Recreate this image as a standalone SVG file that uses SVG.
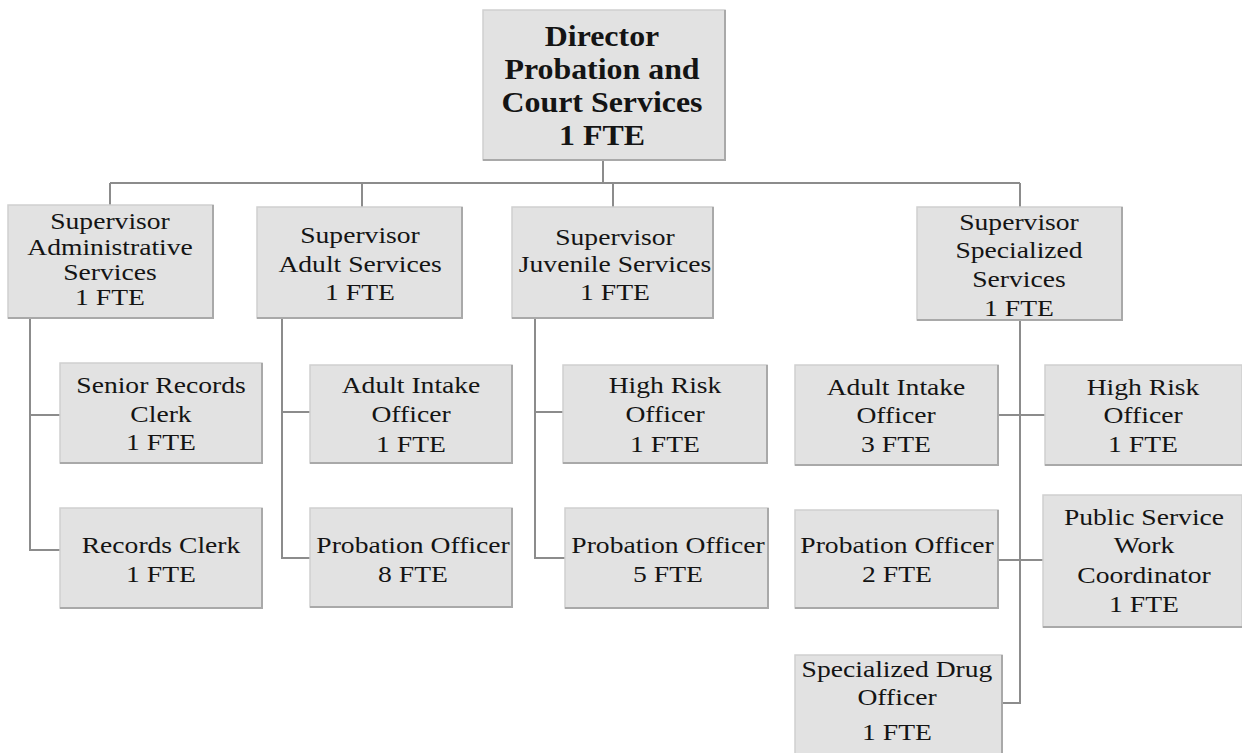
<svg xmlns="http://www.w3.org/2000/svg" width="1242" height="753" viewBox="0 0 1242 753">
<style>
.box{fill:#e2e2e2;stroke:#cfcfcf;stroke-width:1.5}
.edge{fill:none;stroke:#a9a9a9;stroke-width:2}
.t{font-family:"Liberation Serif","Times New Roman",serif;font-size:24px;fill:#141414;text-anchor:middle}
.tb{font-family:"Liberation Serif","Times New Roman",serif;font-size:29px;font-weight:bold;fill:#141414;text-anchor:middle}
#connectors path{fill:none;stroke:#8c8c8c;stroke-width:2}
</style>
<rect width="1242" height="753" fill="#ffffff"/>
<g id="connectors">
<path d="M603,160V183M110,183H1020M110,183V205M362,183V207M613,183V207M1020,183V207"/>
<path d="M30,318V550H60M30,415H60"/>
<path d="M282,318V558H310M282,412H310"/>
<path d="M535,318V558H565M535,412H563"/>
<path d="M1020,320V703H1002M998,415H1045M998,560H1043"/>
</g>
<g id="director">
<rect class="box" x="483" y="10" width="242" height="150"/>
<path class="edge" d="M725,10V160H483"/>
<g transform="translate(602,0) scale(1.1,1)">
<text class="tb" x="0" y="46">Director</text>
<text class="tb" x="0" y="79">Probation and</text>
<text class="tb" x="0" y="112">Court Services</text>
<text class="tb" x="0" y="145">1 FTE</text>
</g>
</g>
<g id="sup-admin">
<rect class="box" x="8" y="205" width="205" height="113"/>
<path class="edge" d="M213,205V318H8"/>
<g transform="translate(110,0) scale(1.15,1)">
<text class="t" x="0" y="229">Supervisor</text>
<text class="t" x="0" y="255">Administrative</text>
<text class="t" x="0" y="280">Services</text>
<text class="t" x="0" y="305">1 FTE</text>
</g>
</g>
<g id="sup-adult">
<rect class="box" x="257" y="207" width="205" height="111"/>
<path class="edge" d="M462,207V318H257"/>
<g transform="translate(360,0) scale(1.15,1)">
<text class="t" x="0" y="243">Supervisor</text>
<text class="t" x="0" y="272">Adult Services</text>
<text class="t" x="0" y="300">1 FTE</text>
</g>
</g>
<g id="sup-juvenile">
<rect class="box" x="512" y="207" width="201" height="111"/>
<path class="edge" d="M713,207V318H512"/>
<g transform="translate(615,0) scale(1.15,1)">
<text class="t" x="0" y="245">Supervisor</text>
<text class="t" x="0" y="272">Juvenile Services</text>
<text class="t" x="0" y="300">1 FTE</text>
</g>
</g>
<g id="sup-specialized">
<rect class="box" x="917" y="207" width="205" height="113"/>
<path class="edge" d="M1122,207V320H917"/>
<g transform="translate(1019,0) scale(1.15,1)">
<text class="t" x="0" y="230">Supervisor</text>
<text class="t" x="0" y="258">Specialized</text>
<text class="t" x="0" y="287">Services</text>
<text class="t" x="0" y="316">1 FTE</text>
</g>
</g>
<g id="senior-records-clerk">
<rect class="box" x="60" y="363" width="202" height="100"/>
<path class="edge" d="M262,363V463H60"/>
<g transform="translate(161,0) scale(1.15,1)">
<text class="t" x="0" y="393">Senior Records</text>
<text class="t" x="0" y="422">Clerk</text>
<text class="t" x="0" y="450">1 FTE</text>
</g>
</g>
<g id="records-clerk">
<rect class="box" x="60" y="508" width="202" height="100"/>
<path class="edge" d="M262,508V608H60"/>
<g transform="translate(161,0) scale(1.15,1)">
<text class="t" x="0" y="553">Records Clerk</text>
<text class="t" x="0" y="582">1 FTE</text>
</g>
</g>
<g id="adult-intake-1">
<rect class="box" x="310" y="365" width="202" height="98"/>
<path class="edge" d="M512,365V463H310"/>
<g transform="translate(411,0) scale(1.15,1)">
<text class="t" x="0" y="393">Adult Intake</text>
<text class="t" x="0" y="422">Officer</text>
<text class="t" x="0" y="452">1 FTE</text>
</g>
</g>
<g id="probation-8">
<rect class="box" x="310" y="508" width="202" height="99"/>
<path class="edge" d="M512,508V607H310"/>
<g transform="translate(413,0) scale(1.15,1)">
<text class="t" x="0" y="553">Probation Officer</text>
<text class="t" x="0" y="582">8 FTE</text>
</g>
</g>
<g id="high-risk-juv">
<rect class="box" x="563" y="365" width="204" height="98"/>
<path class="edge" d="M767,365V463H563"/>
<g transform="translate(665,0) scale(1.15,1)">
<text class="t" x="0" y="393">High Risk</text>
<text class="t" x="0" y="422">Officer</text>
<text class="t" x="0" y="452">1 FTE</text>
</g>
</g>
<g id="probation-5">
<rect class="box" x="565" y="508" width="203" height="100"/>
<path class="edge" d="M768,508V608H565"/>
<g transform="translate(668,0) scale(1.15,1)">
<text class="t" x="0" y="553">Probation Officer</text>
<text class="t" x="0" y="582">5 FTE</text>
</g>
</g>
<g id="adult-intake-3">
<rect class="box" x="795" y="365" width="203" height="100"/>
<path class="edge" d="M998,365V465H795"/>
<g transform="translate(896,0) scale(1.15,1)">
<text class="t" x="0" y="395">Adult Intake</text>
<text class="t" x="0" y="423">Officer</text>
<text class="t" x="0" y="452">3 FTE</text>
</g>
</g>
<g id="high-risk-spec">
<rect class="box" x="1045" y="365" width="197" height="100"/>
<path class="edge" d="M1045,465H1242"/>
<g transform="translate(1143,0) scale(1.15,1)">
<text class="t" x="0" y="395">High Risk</text>
<text class="t" x="0" y="423">Officer</text>
<text class="t" x="0" y="452">1 FTE</text>
</g>
</g>
<g id="probation-2">
<rect class="box" x="795" y="510" width="203" height="98"/>
<path class="edge" d="M998,510V608H795"/>
<g transform="translate(897,0) scale(1.15,1)">
<text class="t" x="0" y="553">Probation Officer</text>
<text class="t" x="0" y="582">2 FTE</text>
</g>
</g>
<g id="public-service">
<rect class="box" x="1043" y="495" width="199" height="132"/>
<path class="edge" d="M1043,627H1242"/>
<g transform="translate(1144,0) scale(1.15,1)">
<text class="t" x="0" y="525">Public Service</text>
<text class="t" x="0" y="553">Work</text>
<text class="t" x="0" y="583">Coordinator</text>
<text class="t" x="0" y="612">1 FTE</text>
</g>
</g>
<g id="specialized-drug">
<rect class="box" x="795" y="655" width="207" height="100"/>
<path class="edge" d="M1002,655V753"/>
<g transform="translate(897,0) scale(1.15,1)">
<text class="t" x="0" y="677">Specialized Drug</text>
<text class="t" x="0" y="705">Officer</text>
<text class="t" x="0" y="740">1 FTE</text>
</g>
</g>
</svg>
